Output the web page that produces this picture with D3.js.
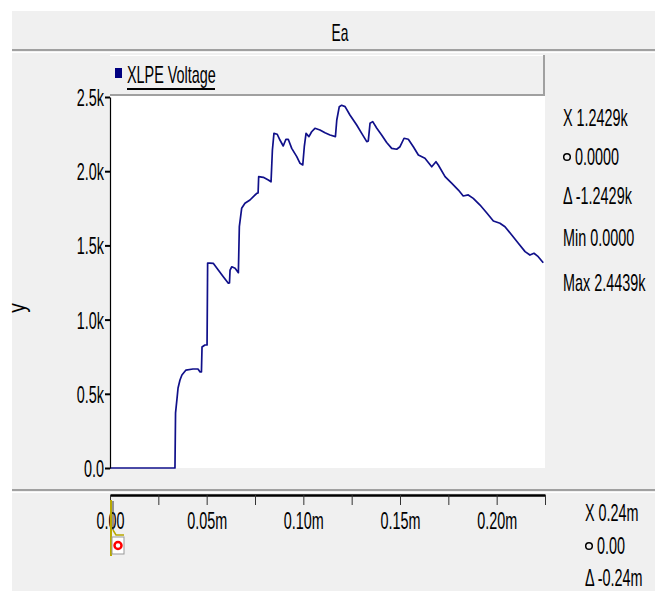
<!DOCTYPE html>
<html>
<head>
<meta charset="utf-8">
<script src="https://cdn.jsdelivr.net/npm/d3@7"></script>
<style>
  body { margin: 0; background: #fff; }
  text { font-family: "Liberation Sans", Arial, sans-serif; fill: #000; }
</style>
</head>
<body>
<svg id="chart" width="655" height="591"></svg>
<script>
// data (time in ms, voltage in V)
const timeMs = [0, 0.0336, 0.0339, 0.0347, 0.0352, 0.0362, 0.0372, 0.0393, 0.0429, 0.0455, 0.0466, 0.0473,
  0.0476, 0.0491, 0.0502, 0.0505, 0.0517, 0.0534, 0.0560, 0.0586, 0.0612, 0.0618, 0.0621, 0.0630, 0.0647,
  0.0664, 0.0669, 0.0681, 0.0698, 0.0724, 0.0759, 0.0766, 0.0769, 0.0793, 0.0819, 0.0833, 0.0840, 0.0848,
  0.0865, 0.0879, 0.0896, 0.0910, 0.0922, 0.0940, 0.0966, 0.0983, 0.0997, 0.1005, 0.1014, 0.1029, 0.1043,
  0.1060, 0.1086, 0.1112, 0.1138, 0.1166, 0.1173, 0.1186, 0.1198, 0.1216, 0.1241, 0.1276, 0.1302, 0.1328,
  0.1336, 0.1345, 0.1359, 0.1380, 0.1405, 0.1431, 0.1457, 0.1483, 0.1500, 0.1521, 0.1543, 0.1569, 0.1595,
  0.1629, 0.1664, 0.1686, 0.1698, 0.1733, 0.1767, 0.1802, 0.1827, 0.1853, 0.1879, 0.1914, 0.1948, 0.1983,
  0.2017, 0.2043, 0.2078, 0.2112, 0.2147, 0.2172, 0.2193, 0.2215, 0.2241];
const voltage = [0, 0, 371, 472, 539, 593, 627, 660, 667, 667, 647, 647,
  815, 829, 829, 1381, 1381, 1379, 1334, 1289, 1245, 1247, 1334, 1356, 1346,
  1316, 1626, 1750, 1784, 1806, 1851, 1853, 1963, 1959, 1941, 1929, 2143, 2255,
  2249, 2210, 2170, 2215, 2215, 2154, 2098, 2053, 2042, 2165, 2255, 2233, 2266,
  2289, 2278, 2259, 2244, 2233, 2345, 2435, 2444, 2435, 2379, 2311, 2255, 2199,
  2204, 2323, 2334, 2289, 2244, 2193, 2154, 2148, 2165, 2222, 2215, 2165, 2109,
  2087, 2030, 2064, 2042, 1963, 1919, 1873, 1833, 1840, 1817, 1772, 1720, 1664,
  1649, 1626, 1570, 1514, 1458, 1435, 1447, 1424, 1383];

const yTicks = [0, 500, 1000, 1500, 2000, 2500];
const xTicks = [0, 0.025, 0.05, 0.075, 0.1, 0.125, 0.15, 0.175, 0.2, 0.225];
const xLabelTicks = [0, 0.05, 0.1, 0.15, 0.2];
const yReadout = [["X", "1.2429k"], ["o", "0.0000"], ["Δ", "-1.2429k"], ["Min", "0.0000"], ["Max", "2.4439k"]];
const xReadout = [["X", "0.24m"], ["o", "0.00"], ["Δ", "-0.24m"]];

const SX = 0.6; // squeezed font like the original
const FS = 24;
const svg = d3.select("#chart");

function label(g, x, y, s, anchor, size) {
  return g.append("text")
    .attr("transform", `translate(${x},${y}) scale(${SX},1)`)
    .attr("text-anchor", anchor || "start")
    .attr("dominant-baseline", "central")
    .style("font-size", (size || FS) + "px")
    .text(s);
}

// panel background
svg.append("rect").attr("x", 12).attr("y", 11).attr("width", 643).attr("height", 580).attr("fill", "#f0f0f0");

// title bar
label(svg, 340, 33, "Ea", "middle", 23);
svg.append("line").attr("x1", 12).attr("x2", 655).attr("y1", 50).attr("y2", 50).attr("stroke", "#a0a0a0").attr("stroke-width", 2);
svg.append("line").attr("x1", 12).attr("x2", 655).attr("y1", 52.5).attr("y2", 52.5).attr("stroke", "#fff").attr("stroke-width", 1);

// scales
const x = d3.scaleLinear().domain([0, 0.225]).range([110, 545]);
const y = d3.scaleLinear().domain([0, 2500]).range([468, 97]);

// plot area
svg.append("rect").attr("x", 110).attr("y", 55).attr("width", 435).attr("height", 413).attr("fill", "#fff");

const line = d3.line().x((d, i) => x(timeMs[i])).y(d => y(d));
svg.append("path").datum(voltage).attr("d", line)
  .attr("fill", "none").attr("stroke", "#10108a").attr("stroke-width", 1.7).attr("stroke-linejoin", "round");

// legend bar
const lg = svg.append("g");
lg.append("rect").attr("x", 110).attr("y", 55).attr("width", 434).attr("height", 40).attr("fill", "#f0f0f0");
lg.append("line").attr("x1", 110).attr("x2", 544).attr("y1", 55.5).attr("y2", 55.5).attr("stroke", "#fff");
lg.append("line").attr("x1", 544).attr("x2", 544).attr("y1", 55).attr("y2", 96).attr("stroke", "#a0a0a0").attr("stroke-width", 2);
lg.append("line").attr("x1", 110).attr("x2", 545).attr("y1", 95).attr("y2", 95).attr("stroke", "#a0a0a0").attr("stroke-width", 2);
lg.append("rect").attr("x", 115).attr("y", 68).attr("width", 7).attr("height", 10).attr("fill", "#000080");
label(lg, 127, 75, "XLPE Voltage");
lg.append("line").attr("x1", 127).attr("x2", 215).attr("y1", 89).attr("y2", 89).attr("stroke", "#000").attr("stroke-width", 2);

// y axis
const yAxis = svg.append("g").attr("transform", "translate(110,0)")
  .call(d3.axisLeft(y).tickValues(yTicks).tickSize(5).tickSizeOuter(0)
    .tickFormat(d => d === 0 ? "0.0" : (d / 1000).toFixed(1) + "k"));
yAxis.select(".domain").attr("stroke", "#000").attr("stroke-width", 1.2);
yAxis.selectAll(".tick line").attr("stroke", "#000").attr("stroke-width", 2);
yAxis.selectAll(".tick text")
  .attr("font-size", null).style("font-size", FS + "px").attr("font-family", null)
  .attr("x", -6 / SX).attr("dy", "0.35em")
  .attr("transform", `scale(${SX},1)`);

label(svg, 17, 308, "y", "middle", 24).attr("transform", "translate(17,308) rotate(-90) scale(0.8,1)");

// x axis strip
svg.append("line").attr("x1", 12).attr("x2", 655).attr("y1", 490).attr("y2", 490).attr("stroke", "#a0a0a0").attr("stroke-width", 2);
svg.append("line").attr("x1", 12).attr("x2", 655).attr("y1", 492.5).attr("y2", 492.5).attr("stroke", "#fff").attr("stroke-width", 1);

const xAxis = svg.append("g").attr("transform", "translate(0,495)")
  .call(d3.axisBottom(x).tickValues(xTicks).tickSize(10).tickSizeOuter(0)
    .tickFormat(d => xLabelTicks.some(v => Math.abs(v - d) < 1e-9) ? (d === 0 ? "0.00" : d.toFixed(2) + "m") : ""));
xAxis.select(".domain").attr("stroke", "#000").attr("stroke-width", 2.5);
xAxis.selectAll(".tick line").attr("stroke", "#333").attr("stroke-width", 1);
xAxis.selectAll(".tick text")
  .attr("font-size", null).style("font-size", FS + "px").attr("font-family", null)
  .attr("y", 26).attr("dy", "0.35em")
  .attr("transform", `scale(${SX},1)`);

// cursor marker at t = 0
const cur = svg.append("g");
cur.append("line").attr("x1", 111).attr("x2", 111).attr("y1", 500).attr("y2", 556).attr("stroke", "#b8a800").attr("stroke-width", 2);
cur.append("line").attr("x1", 113).attr("x2", 113).attr("y1", 501).attr("y2", 530).attr("stroke", "#333").attr("stroke-width", 1);
cur.append("path").attr("d", "M113,530 L116,535 L124,535").attr("fill", "none").attr("stroke", "#b8a800").attr("stroke-width", 1.5);
cur.append("rect").attr("x", 112).attr("y", 537).attr("width", 12).attr("height", 17).attr("fill", "#fff").attr("stroke", "#999");
cur.append("circle").attr("cx", 118).attr("cy", 545.5).attr("r", 3.5).attr("fill", "#fff").attr("stroke", "#ff0000").attr("stroke-width", 2.5);

// readouts
function readout(rows, x0, ys) {
  rows.forEach((r, i) => {
    const yy = ys[i];
    if (r[0] === "o") {
      svg.append("circle").attr("cx", x0 + 4).attr("cy", yy).attr("r", 3.3).attr("fill", "none").attr("stroke", "#000").attr("stroke-width", 1.5);
      label(svg, x0 + 12, yy, r[1]);
    } else {
      label(svg, x0, yy, r[0] + " " + r[1]);
    }
  });
}
readout(yReadout, 563, [118, 157, 196, 238, 283]);
readout(xReadout, 585, [513, 546, 578]);
</script>
</body>
</html>
